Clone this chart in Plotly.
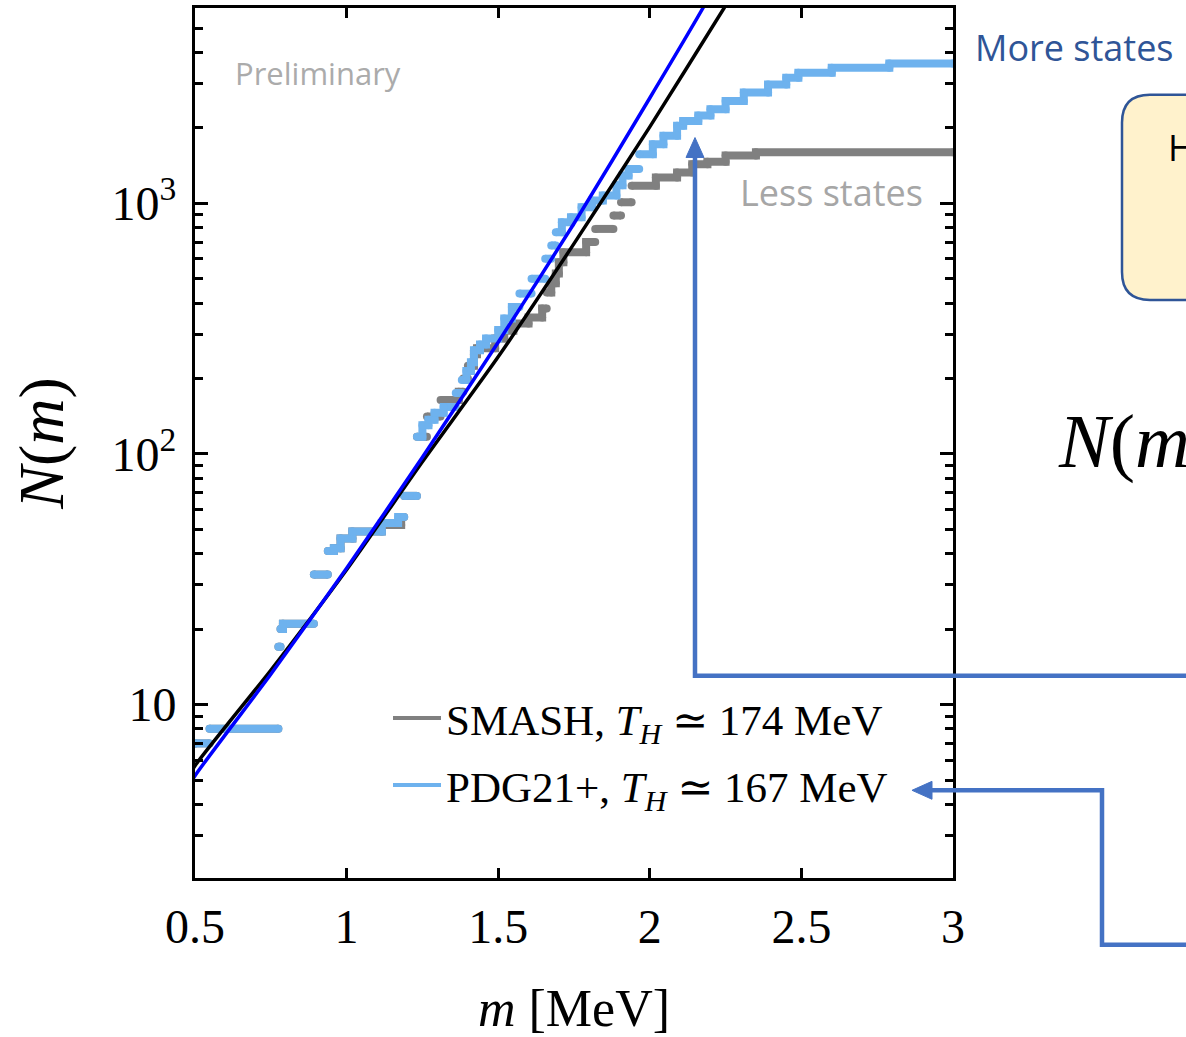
import plotly.graph_objects as go

# ---------------- data ----------------
# cumulative number of states N(m): step starts (mass, count)
pdg_m = [0.50, 0.548, 0.775, 0.782, 0.79, 0.892, 0.938, 0.958, 0.98, 1.019,
         1.116, 1.17, 1.19, 1.232, 1.25, 1.27, 1.29, 1.32, 1.36, 1.38,
         1.395, 1.41, 1.42, 1.44, 1.46, 1.50, 1.52, 1.545, 1.57, 1.61,
         1.655, 1.675, 1.69, 1.71, 1.74, 1.775, 1.81, 1.845, 1.89, 1.91,
         1.93, 1.965, 2.01, 2.045, 2.09, 2.11, 2.16, 2.20, 2.25, 2.31,
         2.39, 2.45, 2.49, 2.60, 2.79]
pdg_N = [7, 8, 17, 20, 21, 33, 41, 42, 46, 49,
         53, 56, 68, 117, 130, 137, 146, 154, 175, 197,
         214, 232, 259, 273, 289, 312, 347, 386, 436, 500,
         601, 679, 767, 840, 879, 964, 1025, 1074, 1180, 1290,
         1369, 1570, 1721, 1858, 2037, 2130, 2240, 2372, 2561, 2763,
         2980, 3169, 3318, 3474, 3614]

smash_m = [0.50, 0.548, 0.775, 0.782, 0.79, 0.892, 0.938, 0.958, 0.98, 1.019,
           1.116, 1.18, 1.19, 1.232, 1.265, 1.31, 1.37, 1.385, 1.40, 1.42,
           1.43, 1.49, 1.52, 1.55, 1.60, 1.645, 1.66, 1.675, 1.69, 1.70,
           1.715, 1.79, 1.82, 1.88, 1.905, 1.94, 2.02, 2.09, 2.14, 2.19,
           2.25, 2.35]
smash_N = [7, 8, 17, 20, 21, 33, 41, 42, 46, 49,
           52, 56, 68, 117, 141, 164, 177, 200, 225, 250,
           264, 289, 310, 331, 350, 380, 440, 480, 524, 582,
           638, 700, 790, 893, 1009, 1175, 1268, 1327, 1432, 1465,
           1549, 1596]
m_end = 3.0

# Hagedorn fits
fit_smash_m = [0.45, 0.5, 0.75, 1.0, 1.25, 1.5, 1.75, 2.0, 2.245, 2.3]
fit_smash_N = [4.5, 5.7, 13.7, 34.5, 93, 244, 690, 2018, 6010, 7760]
fit_pdg_m = [0.45, 0.5, 0.75, 1.0, 1.25, 1.5, 1.75, 2.0, 2.175, 2.25]
fit_pdg_N = [4.1, 5.2, 13.2, 35, 97, 279, 830, 2630, 6000, 8800]

legend_names = ["SMASH, <i>T<sub>H</sub></i> \u2243 174 MeV",
                "PDG21+, <i>T<sub>H</sub></i> \u2243 167 MeV"]

x_ticks = [0.5, 1, 1.5, 2, 2.5, 3]
x_ticktext = ["0.5", "1", "1.5", "2", "2.5", "3"]
y_ticks = [10, 100, 1000]
y_ticktext = ["10", "10<sup>2</sup>", "10<sup>3</sup>"]
y_minor = [2, 3, 4, 5, 6, 7, 8, 9, 20, 30, 40, 50, 60, 70, 80, 90,
           200, 300, 400, 500, 600, 700, 800, 900, 2000, 3000, 4000, 5000, 6000]

# ---------------- helpers ----------------
W, H = 1186, 1037
L, R, T, B = 195, 953, 5, 878
JOIN_RATIO = 1.12   # small jumps look continuous (dots overlap), big ones leave a gap


def steps(ms, ns, end):
    xs, ys = [], []
    for i, (m, n) in enumerate(zip(ms, ns)):
        nxt = ms[i + 1] if i + 1 < len(ms) else end
        xs += [m, nxt]
        ys += [n, n]
        if i + 1 < len(ms) and ns[i + 1] / n >= JOIN_RATIO:
            xs.append(None)
            ys.append(None)
    return xs, ys


def px(x):
    return (x - L) / (R - L)


def py(y):
    return (B - y) / (B - T)


def path(cmds):
    out = []
    for c in cmds:
        if isinstance(c, str):
            out.append(c)
        else:
            out.append(f"{px(c[0]):.5f},{py(c[1]):.5f}")
    return " ".join(out)


GRAY = "#808080"
LBLUE = "#6EB2EE"
ARROW = "#4472C4"
SERIF = "Liberation Serif, DejaVu Serif, serif"
SANS = "Open Sans, Noto Sans, sans-serif"

fig = go.Figure()

sx, sy = steps(smash_m, smash_N, m_end)
fig.add_trace(go.Scatter(x=sx, y=sy, mode="lines+markers", showlegend=False,
                         line=dict(color=GRAY, width=8),
                         marker=dict(color=GRAY, size=8), hoverinfo="skip"))
bx, by = steps(pdg_m, pdg_N, m_end)
fig.add_trace(go.Scatter(x=bx, y=by, mode="lines+markers", showlegend=False,
                         line=dict(color=LBLUE, width=8),
                         marker=dict(color=LBLUE, size=8), hoverinfo="skip"))

fig.add_trace(go.Scatter(x=fit_smash_m, y=fit_smash_N, mode="lines", showlegend=False,
                         line=dict(color="black", width=3.5, shape="spline", smoothing=0.6)))
fig.add_trace(go.Scatter(x=fit_pdg_m, y=fit_pdg_N, mode="lines", showlegend=False,
                         line=dict(color="#0000FF", width=3.5, shape="spline", smoothing=0.6)))

# legend entries
fig.add_trace(go.Scatter(x=[None], y=[None], mode="lines", name=legend_names[0],
                         legendgroup="a", line=dict(color=GRAY, width=4)))
fig.add_trace(go.Scatter(x=[None], y=[None], mode="lines", name=legend_names[1],
                         legendgroup="b", line=dict(color=LBLUE, width=4)))

axis_common = dict(showline=True, linecolor="black", linewidth=3, mirror="allticks",
                   ticks="inside", tickcolor="black", showgrid=False, zeroline=False,
                   tickfont=dict(family=SERIF, size=48, color="black"))

fig.update_xaxes(range=[0.5, 3], tickvals=x_ticks, ticktext=x_ticktext,
                 ticklen=10, tickwidth=3, ticklabelstandoff=4,
                 title=dict(text="<i>m</i> [MeV]", font=dict(family=SERIF, size=52, color="black"),
                            standoff=40),
                 **axis_common)
fig.update_yaxes(type="log", range=[0.308, 3.779], tickvals=y_ticks, ticktext=y_ticktext,
                 ticklen=13, tickwidth=3, ticklabelstandoff=6,
                 minor=dict(tickvals=y_minor, ticklen=8, tickwidth=2.5, tickcolor="black",
                            ticks="inside", showgrid=False),
                 title=dict(text="<i>N</i>(<i>m</i>)", font=dict(family=SERIF, size=64, color="black"),
                            standoff=28),
                 **axis_common)

fig.update_layout(
    width=W, height=H,
    margin=dict(l=L, r=W - R, t=T, b=H - B),
    plot_bgcolor="white", paper_bgcolor="white",
    showlegend=True,
    legend=dict(x=px(388), y=py(683), xanchor="left", yanchor="top",
                bgcolor="rgba(0,0,0,0)", font=dict(family=SERIF, size=43, color="black"),
                tracegroupgap=8, itemwidth=48),
)

shapes = []
# rounded box (partially visible)
r = 28
x0, x1, y0, y1 = 1122, 1240, 92, 298
shapes.append(dict(type="path", xref="paper", yref="paper", layer="above",
                   path=path(["M", (x0 + r, y0), "L", (x1, y0), "L", (x1, y1), "L", (x0 + r, y1),
                              "Q", (x0, y1), (x0, y1 - r), "L", (x0, y0 + r),
                              "Q", (x0, y0), (x0 + r, y0), "Z"]),
                   fillcolor="#FFF2CC", line=dict(color="#2F5597", width=2.5)))
# arrow 1: from right, up to "more states"
shapes.append(dict(type="path", xref="paper", yref="paper", layer="above",
                   path=path(["M", (1200, 675), "L", (695, 675), "L", (695, 150)]),
                   line=dict(color=ARROW, width=4.5)))
shapes.append(dict(type="path", xref="paper", yref="paper", layer="above",
                   path=path(["M", (695, 135), "L", (686, 155), "L", (704, 155), "Z"]),
                   fillcolor=ARROW, line=dict(color=ARROW, width=1)))
# arrow 2: to legend PDG21+
shapes.append(dict(type="path", xref="paper", yref="paper", layer="above",
                   path=path(["M", (1200, 945), "L", (1102, 945), "L", (1102, 790), "L", (925, 790)]),
                   line=dict(color=ARROW, width=4.5)))
shapes.append(dict(type="path", xref="paper", yref="paper", layer="above",
                   path=path(["M", (912, 790), "L", (932, 781), "L", (932, 799), "Z"]),
                   fillcolor=ARROW, line=dict(color=ARROW, width=1)))
fig.update_layout(shapes=shapes)

annots = [
    dict(text="Preliminary", x=px(233), y=py(70), xanchor="left", yanchor="middle",
         font=dict(family=SANS, size=31, color="#ABABAB")),
    dict(text="Less states", x=px(738), y=py(190), xanchor="left", yanchor="middle",
         font=dict(family=SANS, size=36, color="#A6A6A6")),
    dict(text="More states", x=px(973), y=py(45), xanchor="left", yanchor="middle",
         font=dict(family=SANS, size=36, color="#2F5597")),
    dict(text="H", x=px(1166), y=py(145), xanchor="left", yanchor="middle",
         font=dict(family=SANS, size=36, color="black")),
    dict(text="<i>N</i>(<i>m</i>)", x=px(1056), y=py(440), xanchor="left", yanchor="middle",
         font=dict(family=SERIF, size=76, color="black")),
]
for a in annots:
    a.update(xref="paper", yref="paper", showarrow=False)
fig.update_layout(annotations=annots)

fig.write_html("out.html")
